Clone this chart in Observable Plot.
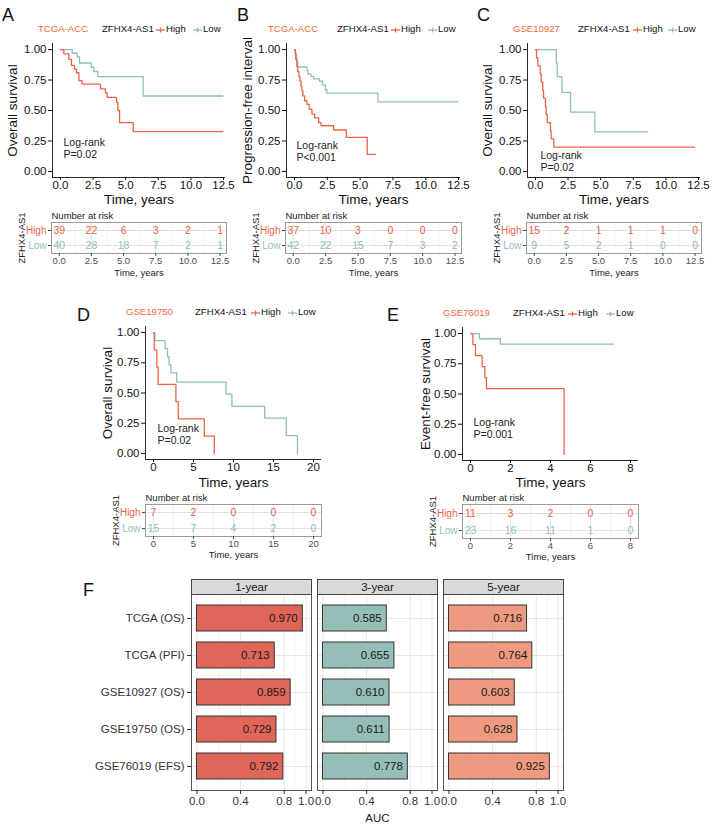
<!DOCTYPE html>
<html><head><meta charset="utf-8">
<script src="https://cdn.jsdelivr.net/npm/d3@7"></script>
<script src="https://cdn.jsdelivr.net/npm/@observablehq/plot@0.6"></script>
<style>
body{margin:0;background:#fff;}
#root{position:relative;width:722px;height:828px;overflow:hidden;font-family:"Liberation Sans",Arial,Helvetica,sans-serif;color:#111;}
.abs{position:absolute;white-space:nowrap;}
.letter{font-size:18px;line-height:20px;color:#111;}
.leg{font-size:9.6px;line-height:12px;}
</style>
</head><body><div id="root"></div>
<script>
const HIGH = "#EB6446", LOW = "#8FC0B5", DSCOL = "#EE6A3D";
const FONT = '"Liberation Sans", Arial, Helvetica, sans-serif';

// ---- Panel A: TCGA-ACC overall survival
const aHighTime = [0, 0.26, 0.64, 0.84, 1.07, 1.23, 1.41, 1.66, 3.07, 3.45, 3.58, 4.3, 4.4, 4.53, 5.58, 12.45];
const aHighSurv = [1, 0.965, 0.92, 0.87, 0.84, 0.81, 0.745, 0.717, 0.677, 0.644, 0.608, 0.567, 0.5, 0.4, 0.326, 0.326];
const aHighCens = [3.53, 3.95, 4.17, 6.19, 7.62, 10.1, 12.45];
const aLowTime = [0, 0.9, 1.28, 1.46, 2.35, 2.56, 2.86, 6.34, 12.45];
const aLowSurv = [1, 0.97, 0.94, 0.89, 0.855, 0.82, 0.778, 0.619, 0.619];
const aLowCens = [1.66, 1.92, 2.1, 2.25, 3.07, 4.91, 5.45, 5.63, 6.01, 7.2, 8.7, 9.2, 9.6, 12.4];
const aRiskHigh = [39, 22, 6, 3, 2, 1];
const aRiskLow = [40, 28, 18, 7, 2, 1];

// ---- Panel B: TCGA-ACC progression-free interval
const bHighTime = [0, 0.05, 0.1, 0.18, 0.25, 0.33, 0.41, 0.5, 0.56, 0.64, 0.77, 0.95, 1.12, 1.33, 1.53, 1.84, 2.02, 2.98, 3.95, 5.54, 6.17];
const bHighSurv = [1, 0.97, 0.92, 0.86, 0.82, 0.78, 0.74, 0.70, 0.66, 0.62, 0.58, 0.55, 0.51, 0.47, 0.44, 0.40, 0.375, 0.34, 0.28, 0.14, 0.14];
const bHighCens = [2.1, 2.35, 3.62, 3.85, 6.17];
const bLowTime = [0, 0.08, 0.17, 0.25, 0.95, 1.02, 1.25, 1.46, 1.9, 2.14, 2.35, 2.47, 6.35, 12.45];
const bLowSurv = [1, 0.95, 0.9, 0.857, 0.83, 0.8, 0.78, 0.76, 0.74, 0.71, 0.67, 0.643, 0.57, 0.57];
const bLowCens = [1.6, 1.78, 2.93, 4.9, 5.46, 5.79, 6.12, 7.14, 7.96, 9.16, 9.64, 12.3];
const bRiskHigh = [37, 10, 3, 0, 0, 0];
const bRiskLow = [42, 22, 15, 7, 3, 2];

// ---- Panel C: GSE10927 overall survival
const cHighTime = [0, 0.08, 0.18, 0.36, 0.44, 0.56, 0.62, 0.77, 0.82, 0.9, 1.15, 1.2, 1.41, 12.2];
const cHighSurv = [1, 0.933, 0.867, 0.8, 0.733, 0.667, 0.6, 0.533, 0.467, 0.4, 0.333, 0.267, 0.2, 0.2];
const cHighCens = [1.93, 4.16, 12.2];
const cLowTime = [0, 1.59, 1.67, 2.03, 2.69, 4.55, 8.6];
const cLowSurv = [1, 0.889, 0.778, 0.648, 0.486, 0.324, 0.324];
const cLowCens = [1.93, 2.62, 5.18, 8.6];
const cRiskHigh = [15, 2, 1, 1, 1, 0];
const cRiskLow = [9, 5, 2, 1, 0, 0];

// ---- Panel D: GSE19750 overall survival
const dHighTime = [0, 0.1, 0.42, 0.58, 2.8, 3.1, 6.35, 7.6];
const dHighSurv = [1, 0.857, 0.714, 0.571, 0.429, 0.286, 0.143, 0];
const dHighCens = [];
const dLowTime = [0, 0.17, 1.46, 1.75, 1.95, 2.17, 2.9, 9.06, 9.8, 13.9, 16.6, 18.0];
const dLowSurv = [1, 0.933, 0.867, 0.8, 0.733, 0.667, 0.59, 0.49, 0.39, 0.293, 0.147, 0];
const dLowCens = [2.05, 5.9, 14.0];
const dRiskHigh = [7, 2, 0, 0, 0];
const dRiskLow = [15, 7, 4, 2, 0];

// ---- Panel E: GSE76019 event-free survival
const eHighTime = [0, 0.12, 0.25, 0.58, 0.72, 0.8, 4.68];
const eHighSurv = [1, 0.909, 0.818, 0.727, 0.636, 0.545, 0];
const eHighCens = [1.12, 1.46, 1.6, 3.39, 4.3];
const eLowTime = [0, 0.45, 1.49, 7.16];
const eLowSurv = [1, 0.957, 0.913, 0.913];
const eLowCens = [1.63, 1.76, 1.88, 2.0, 2.13, 2.26, 2.43, 3.98, 4.36, 4.48, 4.95, 5.23, 5.49, 5.82, 7.16];
const eRiskHigh = [11, 3, 2, 0, 0];
const eRiskLow = [23, 16, 11, 1, 0];

// tick labels / risk times
const ticksABC = [0, 2.5, 5, 7.5, 10, 12.5];
const ticksD = [0, 5, 10, 15, 20];
const ticksE = [0, 2, 4, 6, 8];
const survTicks = [0, 0.25, 0.5, 0.75, 1];

// ---- Panel F: time-dependent AUC
const datasets = ["TCGA (OS)", "TCGA (PFI)", "GSE10927 (OS)", "GSE19750 (OS)", "GSE76019 (EFS)"];
const periods = ["1-year", "3-year", "5-year"];
const auc1 = [0.970, 0.713, 0.859, 0.729, 0.792];
const auc3 = [0.585, 0.655, 0.610, 0.611, 0.778];
const auc5 = [0.716, 0.764, 0.603, 0.628, 0.925];
const periodColors = ["#E0665A", "#95BEB8", "#EE9A80"];

// ---------- helpers
const root = document.getElementById("root");
function place(el, left, top) {
  const d = document.createElement("div");
  d.className = "abs"; d.style.left = left + "px"; d.style.top = top + "px";
  d.appendChild(el); root.appendChild(d); return d;
}
function html(str, left, top, cls, color) {
  const d = document.createElement("div");
  d.className = "abs " + (cls || ""); d.style.left = left + "px"; d.style.top = top + "px";
  if (color) d.style.color = color;
  d.innerHTML = str; root.appendChild(d); return d;
}
function pts(t, s) { return t.map((v, i) => ({t: v, s: s[i]})); }
function at(t, s, x) { let v = s[0]; for (let i = 0; i < t.length; i++) if (t[i] <= x) v = s[i]; return v; }
function cens(t, s, c) { return c.map(v => ({t: v, s: at(t, s, v)})); }

function km(c) {
  const hi = pts(c.hiT, c.hiS), lo = pts(c.loT, c.loS);
  return Plot.plot({
    width: c.w, height: c.h, marginLeft: c.ml, marginRight: c.mr, marginTop: c.mt, marginBottom: c.mb,
    style: {fontFamily: FONT, background: "transparent", overflow: "visible", color: "#111"},
    x: {domain: c.xdom}, y: {domain: [-0.05, 1.05]},
    marks: [
      Plot.ruleY([-0.05], {stroke: "#111", strokeWidth: 0.9}),
      Plot.ruleX([c.xdom[0]], {stroke: "#111", strokeWidth: 0.9}),
      Plot.axisY({ticks: survTicks, tickFormat: d3.format(".2f"), tickSize: 4, tickPadding: 2, fontSize: 11.5, label: null}),
      Plot.axisX({ticks: c.ticks, tickFormat: c.fmt, tickSize: 3, tickPadding: 0, fontSize: 11.5, label: null}),
      Plot.line(lo, {x: "t", y: "s", curve: "step-after", stroke: LOW, strokeWidth: 1.3}),
      Plot.line(hi, {x: "t", y: "s", curve: "step-after", stroke: HIGH, strokeWidth: 1.3}),
      Plot.dot(cens(c.loT, c.loS, c.loC), {x: "t", y: "s", symbol: "plus", r: 2.6, fill: LOW, stroke: null}),
      Plot.dot(cens(c.hiT, c.hiS, c.hiC), {x: "t", y: "s", symbol: "plus", r: 2.6, fill: HIGH, stroke: null}),
      Plot.text([c.ylabel], {text: d => d, frameAnchor: "left", rotate: -90, textAnchor: "middle", dx: c.ydx, dy: 0, fontSize: 13.5}),
      Plot.text(["Time, years"], {text: d => d, frameAnchor: "bottom", lineAnchor: "middle", dy: c.tdy, fontSize: 13.5}),
      Plot.text(["Log-rank"], {text: d => d, x: () => c.lx, y: () => c.ly, textAnchor: "start", fontSize: 10.5, fill: "#222"}),
      Plot.text([c.p], {text: d => d, x: () => c.lx, y: () => c.ly, dy: 12, textAnchor: "start", fontSize: 10.5, fill: "#222"})
    ]
  });
}

function risk(c) {
  const minor = [];
  for (let i = 0; i < c.ticks.length - 1; i++) minor.push((c.ticks[i] + c.ticks[i + 1]) / 2);
  return Plot.plot({
    width: c.w, height: c.h, marginLeft: c.ml, marginRight: c.mr, marginTop: c.mt, marginBottom: c.mb,
    style: {fontFamily: FONT, background: "transparent", overflow: "visible", color: "#4d4d4d"},
    x: {domain: c.xdom}, y: {type: "point", domain: ["High", "Low"], padding: 0.5},
    marks: [
      Plot.gridX({ticks: minor, stroke: "#f3f3f3", strokeOpacity: 1}),
      Plot.gridX({ticks: c.ticks, stroke: "#e6e6e6", strokeOpacity: 1}),
      Plot.gridY({stroke: "#e0e0e0", strokeOpacity: 1}),
      Plot.frame({stroke: "#9a9a9a"}),
      Plot.axisX({ticks: c.ticks, tickFormat: c.fmt, tickSize: 3, tickPadding: 1, fontSize: 9.5, label: null}),
      Plot.axisY({tickSize: 3, tickFormat: () => "", label: null}),
      Plot.text(c.ticks, {x: d => d, y: () => "High", text: (d, i) => String(c.hi[i]), fontSize: 10.5, fill: HIGH}),
      Plot.text(c.ticks, {x: d => d, y: () => "Low", text: (d, i) => String(c.lo[i]), fontSize: 10.5, fill: LOW}),
      Plot.text(["High"], {x: () => c.xdom[0], y: d => d, text: d => d, textAnchor: "end", dx: -5, fontSize: 10, fill: HIGH}),
      Plot.text(["Low"], {x: () => c.xdom[0], y: d => d, text: d => d, textAnchor: "end", dx: -5, fontSize: 10, fill: LOW}),
      Plot.text(["Number at risk"], {text: d => d, frameAnchor: "top-left", lineAnchor: "middle", dy: -7, fontSize: 9.5, fill: "#222"}),
      Plot.text(["ZFHX4-AS1"], {text: d => d, frameAnchor: "left", rotate: -90, textAnchor: "middle", dx: -30, fontSize: 9.5, fill: "#222"}),
      Plot.text(["Time, years"], {text: d => d, frameAnchor: "bottom", lineAnchor: "middle", dy: c.tdy, fontSize: 9.5, fill: "#222"})
    ]
  });
}

function icon(col) {
  return `<svg width="9" height="8" style="vertical-align:middle"><line x1="0" x2="9" y1="4" y2="4" stroke="${col}" stroke-width="1.3"/><line x1="4.5" x2="4.5" y1="1.5" y2="6.5" stroke="${col}" stroke-width="1.2"/></svg>`;
}
function legend(y, ds, xds, xz, xh, xl) {
  const t = y - 6;
  html(ds, xds, t, "leg", DSCOL);
  html("ZFHX4-AS1", xz, t, "leg", "#111");
  html(icon(HIGH), xh, t + 1, "leg");
  html("High", xh + 10, t, "leg", "#111");
  html(icon(LOW), xl, t + 1, "leg");
  html("Low", xl + 10, t, "leg", "#111");
}

const f1 = d3.format(".1f"), fd = d3.format("d");
const xdomABC = [-0.61, 12.65];
const xdomRiskABC = [-0.6, 13.0];

// ---- Row 1
const row1 = [
  {left: 0, ml: 52, mr: 15, w: 240, ylabel: "Overall survival", ydx: -40, hiT: aHighTime, hiS: aHighSurv, hiC: aHighCens, loT: aLowTime, loS: aLowSurv, loC: aLowCens, lx: 0.23, ly: 0.24, p: "P=0.02", rh: aRiskHigh, rl: aRiskLow},
  {left: 240, ml: 46, mr: 20, w: 240, ylabel: "Progression-free interval", ydx: -39, hiT: bHighTime, hiS: bHighSurv, hiC: bHighCens, loT: bLowTime, loS: bLowSurv, loC: bLowCens, lx: 0.15, ly: 0.21, p: "P<0.001", rh: bRiskHigh, rl: bRiskLow},
  {left: 480, ml: 47, mr: 22, w: 242, ylabel: "Overall survival", ydx: -40, hiT: cHighTime, hiS: cHighSurv, hiC: cHighCens, loT: cLowTime, loS: cLowSurv, loC: cLowCens, lx: 0.38, ly: 0.13, p: "P=0.02", rh: cRiskHigh, rl: cRiskLow}
];
row1.forEach(r => {
  place(km({w: r.w, h: 205, ml: r.ml, mr: r.mr, mt: 43, mb: 28, xdom: xdomABC, ticks: ticksABC, fmt: f1,
    ylabel: r.ylabel, ydx: r.ydx, tdy: 22, hiT: r.hiT, hiS: r.hiS, hiC: r.hiC, loT: r.loT, loS: r.loS, loC: r.loC,
    lx: r.lx, ly: r.ly, p: r.p}), r.left, 0);
  place(risk({w: r.w, h: 75, ml: r.ml - 1, mr: r.mr - 1, mt: 17, mb: 27, xdom: xdomRiskABC, ticks: ticksABC, fmt: f1,
    hi: r.rh, lo: r.rl, tdy: 19}), r.left, 205);
});

// ---- Row 2
place(km({w: 280, h: 195, ml: 85, mr: 19, mt: 26, mb: 36, xdom: [-1, 21], ticks: ticksD, fmt: fd,
  ylabel: "Overall survival", ydx: -38, tdy: 23, hiT: dHighTime, hiS: dHighSurv, hiC: dHighCens,
  loT: dLowTime, loS: dLowSurv, loC: dLowCens, lx: 0.5, ly: 0.207, p: "P=0.02"}), 60, 300);
place(risk({w: 280, h: 72, ml: 85, mr: 19, mt: 16, mb: 24, xdom: [-1, 21], ticks: ticksD, fmt: fd,
  hi: dRiskHigh, lo: dRiskLow, tdy: 18.5}), 60, 488);

place(km({w: 280, h: 195, ml: 92, mr: 12, mt: 27, mb: 35, xdom: [-0.4, 8.4], ticks: ticksE, fmt: fd,
  ylabel: "Event-free survival", ydx: -37, tdy: 22, hiT: eHighTime, hiS: eHighSurv, hiC: eHighCens,
  loT: eLowTime, loS: eLowSurv, loC: eLowCens, lx: 0.15, ly: 0.264, p: "P=0.001"}), 370, 300);
place(risk({w: 280, h: 72, ml: 92, mr: 12, mt: 16, mb: 22, xdom: [-0.4, 8.4], ticks: ticksE, fmt: fd,
  hi: eRiskHigh, lo: eRiskLow, tdy: 18.5}), 370, 488);

// ---- Panel F
const aucByPeriod = [auc1, auc3, auc5];
const rows = [];
periods.forEach((p, j) => datasets.forEach((ds, i) => rows.push({period: p, ds, auc: aucByPeriod[j][i]})));
place(Plot.plot({
  width: 722, height: 258, marginLeft: 190, marginRight: 159, marginTop: 24, marginBottom: 38,
  style: {fontFamily: FONT, background: "transparent", overflow: "visible", color: "#333"},
  fx: {domain: periods, padding: 0.048, axis: null},
  x: {domain: [-0.05, 1.05]},
  y: {domain: datasets, paddingInner: 0.3, paddingOuter: 0.25},
  color: {domain: periods, range: periodColors},
  marks: [
    Plot.gridX({ticks: [0.2, 0.6, 0.9], stroke: "#f4f4f4", strokeOpacity: 1}),
    Plot.gridX({ticks: [0, 0.4, 0.8, 1], stroke: "#e8e8e8", strokeOpacity: 1}),
    Plot.gridY({stroke: "#e8e8e8", strokeOpacity: 1}),
    Plot.barX(rows, {fx: "period", y: "ds", x: "auc", fill: "period", stroke: "#333", strokeWidth: 1}),
    Plot.text(rows, {fx: "period", y: "ds", x: "auc", text: d => d.auc.toFixed(3), textAnchor: "end", dx: -5, fontSize: 11.5, fill: "#1a1a1a"}),
    Plot.frame({stroke: "#555", strokeWidth: 1}),
    Plot.frame({fill: "#D9D9D9", stroke: "#444", insetTop: -15, insetBottom: 196}),
    Plot.text(periods, {fx: d => d, text: d => d, frameAnchor: "top", lineAnchor: "middle", dy: -7.5, fontSize: 11.5, fill: "#1a1a1a"}),
    Plot.axisY({tickSize: 4, tickPadding: 3, fontSize: 11.5, label: null}),
    Plot.axisX({ticks: [0, 0.4, 0.8, 1], tickFormat: d3.format(".1f"), tickSize: 4, tickPadding: 2, fontSize: 11.5, label: null}),
    Plot.text(["AUC"], {fx: () => "3-year", text: d => d, frameAnchor: "bottom", lineAnchor: "middle", dy: 28, fontSize: 11.5, fill: "#222"})
  ]
}), 0, 570);

// ---- titles / legends / letters
legend(29, "TCGA-ACC", 38, 102, 156, 193);
legend(29, "TCGA-ACC", 268, 337, 391, 428);
legend(29, "GSE10927", 513, 578, 633, 668);
legend(312, "GSE19750", 126, 195, 251, 288);
legend(313, "GSE76019", 443, 513, 568, 606);
html("A", 2, 5, "letter");
html("B", 237, 5, "letter");
html("C", 477, 5, "letter");
html("D", 77, 305, "letter");
html("E", 387, 305, "letter");
html("F", 83, 580, "letter");
</script>
</body></html>
